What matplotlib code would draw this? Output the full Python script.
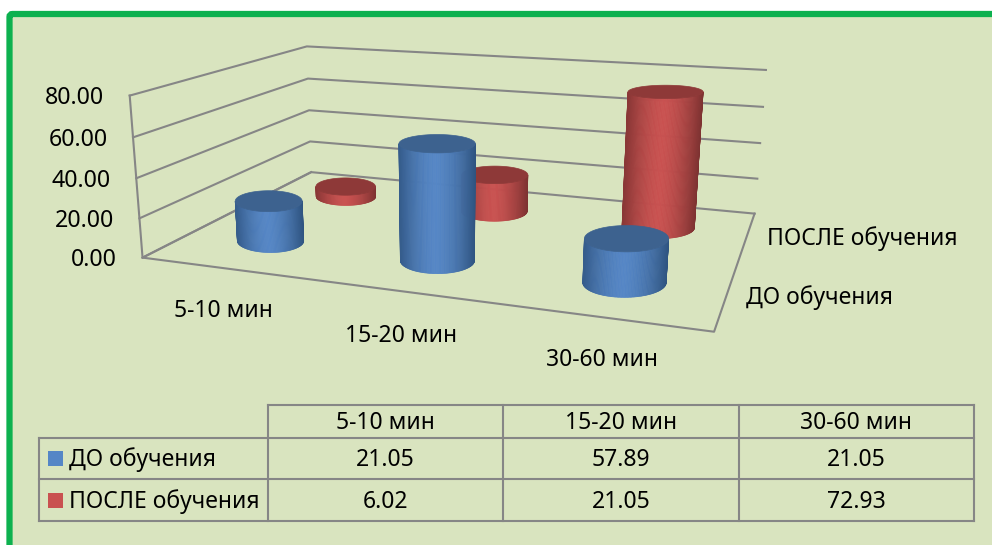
import numpy as np
import matplotlib
matplotlib.use('Agg')
import matplotlib.pyplot as plt
from matplotlib.collections import PolyCollection
from matplotlib.patches import FancyBboxPatch, Polygon, Rectangle

categories = ['5-10 мин', '15-20 мин', '30-60 мин']
seriesNames = ['ДО обучения', 'ПОСЛЕ обучения']
before = [21.05, 57.89, 21.05]
after = [6.02, 21.05, 72.93]
yTicks = [0, 20, 40, 60, 80]

FONT = ['Noto Sans', 'DejaVu Sans']
LINE = '#868686'
BG = '#d9e4bf'
GREEN = '#0db14f'
TEXTSIZE = 16.5

# (light, dark, top) colours per series
BLUE = ('#5586c6', '#2f5480', '#3d628f')
RED = ('#c95150', '#7d3231', '#8e3938')

# box corners on screen, used to fit the camera: (cat, series, value) -> pixel
leftFront = [(142, 258), (140, 218), (137, 178), (133, 137), (129, 96)]
leftBack = [(311, 172), (310, 142), (309, 110), (308, 79), (307, 46)]
rightBack = [(755, 213), (757, 179), (760, 143), (763, 107), (766, 70)]
rightFront = (714, 332)

def fitCamera():
    world = []
    screen = []
    for i, v in enumerate(yTicks):
        world += [(0, 0, v), (0, 2, v), (3, 2, v)]
        screen += [leftFront[i], leftBack[i], rightBack[i]]
    world.append((3, 0, 0))
    screen.append(rightFront)
    rows = []
    rhs = []
    for (x, y, z), (u, v) in zip(world, screen):
        rows.append([x, y, z, 1, 0, 0, 0, 0, -u * x, -u * y, -u * z])
        rhs.append(u)
        rows.append([0, 0, 0, 0, x, y, z, 1, -v * x, -v * y, -v * z])
        rhs.append(v)
    p = np.linalg.lstsq(np.array(rows, float), np.array(rhs, float), rcond=None)[0]
    return np.append(p, 1).reshape(3, 4)

CAM = fitCamera()

def pt(x, y, z):
    q = CAM @ np.array([x, y, z, 1.0])
    return q[:2] / q[2]

def mix(c1, c2, t):
    a = np.array(matplotlib.colors.to_rgb(c1))
    b = np.array(matplotlib.colors.to_rgb(c2))
    return tuple(a + (b - a) * t)

def ringSize(cx, cy, z, rx, ry):
    # half width and half height of the circle as seen on screen
    w = abs(pt(cx + rx, cy, z)[0] - pt(cx - rx, cy, z)[0]) / 2
    h = abs(pt(cx, cy + ry, z)[1] - pt(cx, cy - ry, z)[1]) / 2
    return w, h

def cylinder(ax, cx, cy, value, colors, rx=0.21, ry=0.23, zorder=3):
    light, dark, top = colors
    n = 90
    c0 = pt(cx, cy, 0)
    c1 = pt(cx, cy, value)
    w0, h0 = ringSize(cx, cy, 0, rx, ry)
    w1, h1 = ringSize(cx, cy, value, rx, ry)
    # front half of each ring, screen y runs downwards
    ang = np.linspace(0, np.pi, n + 1)
    lower = np.column_stack([c0[0] + w0 * np.cos(ang), c0[1] + h0 * np.sin(ang)])
    upper = np.column_stack([c1[0] + w1 * np.cos(ang), c1[1] + h1 * np.sin(ang)])
    quads = []
    cols = []
    for i in range(n):
        quads.append([lower[i], lower[i + 1], upper[i + 1], upper[i]])
        t = (lower[i, 0] + lower[i + 1, 0]) / 2
        t = (t - (c0[0] - w0)) / (2 * w0)
        shade = min(abs(t - 0.47) / 0.53, 1) ** 1.6
        cols.append(mix(light, dark, shade))
    # round joins, the strips get very thin at the sides and mitres would spike
    side = PolyCollection(quads, facecolors=cols, edgecolors=cols, linewidths=0.5,
                          joinstyle='round', zorder=zorder)
    side.set_snap(False)
    ax.add_collection(side)
    full = np.linspace(0, 2 * np.pi, 121)
    lid = np.column_stack([c1[0] + w1 * np.cos(full), c1[1] + h1 * np.sin(full)])
    ax.add_patch(Polygon(lid, closed=True, facecolor=top, edgecolor=top, linewidth=0.5, zorder=zorder + 0.1))

def drawBox(ax):
    lw = 1.5
    floor = [pt(0, 2, 0), pt(0, 0, 0), pt(3, 0, 0), pt(3, 2, 0)]
    ax.plot(*zip(*floor), color=LINE, lw=lw, zorder=2)
    ax.plot(*zip(pt(0, 0, 0), pt(0, 0, yTicks[-1])), color=LINE, lw=lw, zorder=2)
    for v in yTicks:
        wall = [pt(0, 0, v), pt(0, 2, v), pt(3, 2, v)]
        ax.plot(*zip(*wall), color=LINE, lw=lw, zorder=2)

def drawTable(ax):
    lw = 1.5
    colX = [39, 268, 503, 739, 974]
    rowY = [405, 438, 479, 521]
    ax.plot([colX[1], colX[-1]], [rowY[0], rowY[0]], color=LINE, lw=lw)
    for y in rowY[1:]:
        ax.plot([colX[0], colX[-1]], [y, y], color=LINE, lw=lw)
    ax.plot([colX[0], colX[0]], [rowY[1], rowY[-1]], color=LINE, lw=lw)
    for x in colX[1:]:
        ax.plot([x, x], [rowY[0], rowY[-1]], color=LINE, lw=lw)
    for j, name in enumerate(categories):
        mid = (colX[j + 1] + colX[j + 2]) / 2
        ax.text(mid, 423, name, ha='center', va='center', fontsize=TEXTSIZE)
    for i, (name, vals, col) in enumerate(zip(seriesNames, [before, after], [BLUE, RED])):
        y = (rowY[i + 1] + rowY[i + 2]) / 2
        ax.add_patch(Rectangle((48, y - 7.5), 15, 15, facecolor=col[0], edgecolor='none'))
        ax.text(69, y + 1.5, name, ha='left', va='center', fontsize=TEXTSIZE)
        for j, v in enumerate(vals):
            mid = (colX[j + 1] + colX[j + 2]) / 2
            ax.text(mid, y + 1.5, '{:.2f}'.format(v), ha='center', va='center', fontsize=TEXTSIZE)

def main():
    plt.rcParams['font.family'] = FONT
    fig = plt.figure(figsize=(9.92, 5.45), dpi=100)
    ax = fig.add_axes([0, 0, 1, 1])
    ax.set_xlim(0, 992)
    ax.set_ylim(545, 0)
    ax.axis('off')

    # slide panel with the green frame running off the right and bottom
    ax.add_patch(FancyBboxPatch((9.5, 14), 1100, 700, boxstyle='round,pad=0,rounding_size=3',
                                facecolor=BG, edgecolor=GREEN, linewidth=4.5, zorder=0))

    drawBox(ax)

    # back row first so the front cylinders cover it
    for j, v in enumerate(after):
        cylinder(ax, j + 0.5, 1.5, v, RED, zorder=3 + j * 0.2)
    for j, v in enumerate(before):
        cylinder(ax, j + 0.5, 0.5, v, BLUE, zorder=5 + j * 0.2)

    yLabelX = [117, 114, 111, 108, 104]
    yLabelY = [260, 221, 181, 140, 98]
    for v, x, y in zip(yTicks, yLabelX, yLabelY):
        ax.text(x, y, '{:.2f}'.format(v), ha='right', va='center', fontsize=TEXTSIZE + 0.2)
    for name, (x, y) in zip(categories, [(223, 311), (401, 336), (602, 360)]):
        ax.text(x, y, name, ha='center', va='center', fontsize=TEXTSIZE)
    ax.text(746, 298, seriesNames[0], ha='left', va='center', fontsize=TEXTSIZE)
    ax.text(767, 239, seriesNames[1], ha='left', va='center', fontsize=TEXTSIZE)

    drawTable(ax)
    fig.savefig('out.png', dpi=100, facecolor='white')

if __name__ == "__main__":
    main()
